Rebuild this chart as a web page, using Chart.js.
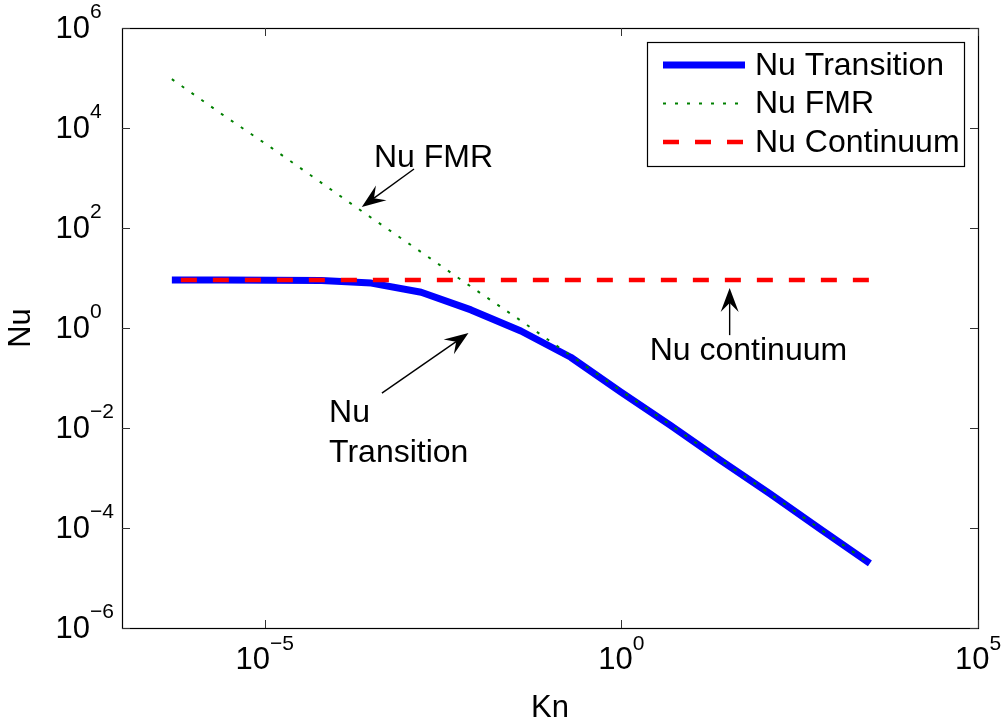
<!DOCTYPE html>
<html>
<head>
<meta charset="utf-8">
<script src="https://cdn.jsdelivr.net/npm/chart.js@4/dist/chart.umd.min.js"></script>
<style>
  html, body { margin: 0; padding: 0; background: #fff; }
  #wrap { width: 1004px; height: 719px; }
</style>
</head>
<body>
<div id="wrap"><canvas id="myChart" width="1004" height="719"></canvas></div>
<script>
// Knudsen numbers (each step x5)
const kn = [5e-7, 2.5e-6, 1.25e-5, 6.25e-5, 3.125e-4, 1.5625e-3, 7.8125e-3,
            0.0390625, 0.1953, 0.9766, 4.883, 24.41, 122.1, 610.4, 3052];
const nuTransition = [9.1, 9.1, 9.0, 8.9, 7.9, 5.2, 2.3, 0.87, 0.26, 0.053,
                      0.0113, 2.28e-3, 4.8e-4, 9.6e-5, 1.95e-5];
const nuFMR = [9.5e4, 1.9e4, 4.0e3, 8.0e2, 1.6e2, 33, 6.7, 1.4, 0.28, 0.056,
               0.0115, 2.3e-3, 4.8e-4, 9.6e-5, 1.95e-5];
const nuContinuum = [9.1, 9.1, 9.1, 9.1, 9.1, 9.1, 9.1, 9.1, 9.1, 9.1,
                     9.1, 9.1, 9.1, 9.1, 9.1];

const xTicks = [1e-5, 1, 1e5];
const yTicks = [1e-6, 1e-4, 1e-2, 1, 1e2, 1e4, 1e6];
const seriesNames = ['Nu Transition', 'Nu FMR', 'Nu Continuum'];

// text annotations with arrows, in data coordinates
const notes = [
  { lines: ['Nu FMR'], kn: 3.4e-4, nu: 2500, tail: [1.24e-3, 1510], tip: [2.3e-4, 263] },
  { lines: ['Nu', 'Transition'], kn: 8.0e-5, nu: 0.02, tail: [4.4e-4, 0.05], tip: [7.2e-3, 0.79] },
  { lines: ['Nu continuum'], kn: 2.5, nu: 0.35, tail: [33, 0.72], tip: [33, 6.3] }
];

const FONT = '"Liberation Sans", Arial, Helvetica, sans-serif';

function pts(ys) {
  return kn.map((k, i) => ({ x: k, y: ys[i] }));
}

function arrow(ctx, x0, y0, x1, y1) {
  const a = Math.atan2(y1 - y0, x1 - x0);
  const L = 24, W = 9, N = 15;
  const bx = x1 - L * Math.cos(a), by = y1 - L * Math.sin(a);
  const nx = x1 - N * Math.cos(a), ny = y1 - N * Math.sin(a);
  ctx.beginPath();
  ctx.moveTo(x0, y0);
  ctx.lineTo(nx, ny);
  ctx.lineWidth = 1.4;
  ctx.strokeStyle = '#000';
  ctx.stroke();
  ctx.beginPath();
  ctx.moveTo(x1, y1);
  ctx.lineTo(bx + W * Math.sin(a), by - W * Math.cos(a));
  ctx.lineTo(nx, ny);
  ctx.lineTo(bx - W * Math.sin(a), by + W * Math.cos(a));
  ctx.closePath();
  ctx.fillStyle = '#000';
  ctx.fill();
}

function expLabel(v) {
  const e = Math.round(Math.log10(v));
  return e < 0 ? '\u2212' + (-e) : String(e);
}

const matlabFrame = {
  id: 'matlabFrame',
  afterDraw(chart) {
    const ctx = chart.ctx;
    const a = chart.chartArea;
    const xs = chart.scales.x, ys = chart.scales.y;
    ctx.save();

    // box
    ctx.strokeStyle = '#000';
    ctx.lineWidth = 1.2;
    ctx.strokeRect(a.left + 0.5, a.top + 0.5, a.right - a.left, a.bottom - a.top);

    // inward ticks
    ctx.lineWidth = 1;
    ctx.strokeStyle = '#333';
    xTicks.forEach(v => {
      const x = Math.round(xs.getPixelForValue(v)) + 0.5;
      ctx.beginPath();
      ctx.moveTo(x, a.bottom); ctx.lineTo(x, a.bottom - 8);
      ctx.moveTo(x, a.top); ctx.lineTo(x, a.top + 8);
      ctx.stroke();
    });
    yTicks.forEach(v => {
      const y = Math.round(ys.getPixelForValue(v)) + 0.5;
      ctx.beginPath();
      ctx.moveTo(a.left, y); ctx.lineTo(a.left + 8, y);
      ctx.moveTo(a.right, y); ctx.lineTo(a.right - 8, y);
      ctx.stroke();
    });

    // tick labels 10^n
    ctx.fillStyle = '#000';
    ctx.textBaseline = 'middle';
    yTicks.forEach(v => {
      const y = ys.getPixelForValue(v);
      ctx.font = '31px ' + FONT;
      ctx.textAlign = 'right';
      ctx.fillText('10', 90, y + 1);
      ctx.font = '21px ' + FONT;
      ctx.textAlign = 'left';
      ctx.fillText(expLabel(v), 90, y - 16);
    });
    xTicks.forEach(v => {
      const x = xs.getPixelForValue(v);
      const ex = expLabel(v);
      ctx.font = '21px ' + FONT;
      const we = ctx.measureText(ex).width;
      ctx.font = '31px ' + FONT;
      const wb = ctx.measureText('10').width;
      const left = x - (wb + we) / 2;
      ctx.textAlign = 'left';
      ctx.fillText('10', left, a.bottom + 32);
      ctx.font = '21px ' + FONT;
      ctx.fillText(ex, left + wb, a.bottom + 16);
    });

    // annotations
    ctx.font = '32px ' + FONT;
    ctx.textAlign = 'left';
    notes.forEach(n => {
      const x = xs.getPixelForValue(n.kn);
      let y = ys.getPixelForValue(n.nu);
      n.lines.forEach((t, i) => ctx.fillText(t, x, y + i * 40));
      arrow(ctx, xs.getPixelForValue(n.tail[0]), ys.getPixelForValue(n.tail[1]),
                 xs.getPixelForValue(n.tip[0]), ys.getPixelForValue(n.tip[1]));
    });

    // legend box
    const lx = a.right - 331, ly = a.top + 14, lw = 317, lh = 124;
    ctx.fillStyle = '#fff';
    ctx.fillRect(lx, ly, lw, lh);
    ctx.strokeStyle = '#000';
    ctx.lineWidth = 1.2;
    ctx.strokeRect(lx + 0.5, ly + 0.5, lw, lh);
    chart.data.datasets.forEach((ds, i) => {
      const y = ly + 23 + i * 38.5;
      ctx.beginPath();
      ctx.setLineDash(ds.borderDash || []);
      ctx.lineDashOffset = 0;
      ctx.strokeStyle = ds.borderColor;
      ctx.lineWidth = ds.borderWidth;
      ctx.lineCap = 'butt';
      ctx.moveTo(lx + 16, y);
      ctx.lineTo(lx + 98, y);
      ctx.stroke();
      ctx.setLineDash([]);
      ctx.fillStyle = '#000';
      ctx.font = '32px ' + FONT;
      ctx.fillText(seriesNames[i], lx + 108, y + 1);
    });
    ctx.restore();
  }
};

let ctx = document.getElementById('myChart');
let myChart = new Chart(ctx, {
  type: 'line',
  data: {
    datasets: [
      {
        label: seriesNames[0],
        data: pts(nuTransition),
        borderColor: '#0000ff',
        borderWidth: 7,
        borderCapStyle: 'butt',
        borderJoinStyle: 'round',
        pointRadius: 0,
        order: 3
      },
      {
        label: seriesNames[1],
        data: pts(nuFMR),
        borderColor: '#008000',
        borderWidth: 2,
        borderDash: [3, 9],
        pointRadius: 0,
        order: 2
      },
      {
        label: seriesNames[2],
        data: pts(nuContinuum),
        borderColor: '#ff0000',
        borderWidth: 4.5,
        borderDash: [16, 16],
        borderDashOffset: 23,
        pointRadius: 0,
        order: 1
      }
    ]
  },
  options: {
    responsive: false,
    animation: false,
    events: [],
    layout: { padding: { top: 28, right: 26, left: 0, bottom: 0 } },
    plugins: {
      legend: { display: false },
      tooltip: { enabled: false }
    },
    scales: {
      x: {
        type: 'logarithmic',
        min: 1e-7,
        max: 1e5,
        grid: { display: false },
        border: { display: false },
        ticks: { display: false },
        title: { display: true, text: 'Kn', color: '#000', font: { family: FONT, size: 31 }, padding: { top: 0, bottom: -8 } },
        afterFit(s) { s.height = 91; }
      },
      y: {
        type: 'logarithmic',
        min: 1e-6,
        max: 1e6,
        grid: { display: false },
        border: { display: false },
        ticks: { display: false },
        title: { display: true, text: 'Nu', color: '#000', font: { family: FONT, size: 31 }, padding: { top: 3, bottom: 0 } },
        afterFit(s) { s.width = 122; }
      }
    }
  },
  plugins: [matlabFrame]
});
</script>
</body>
</html>
